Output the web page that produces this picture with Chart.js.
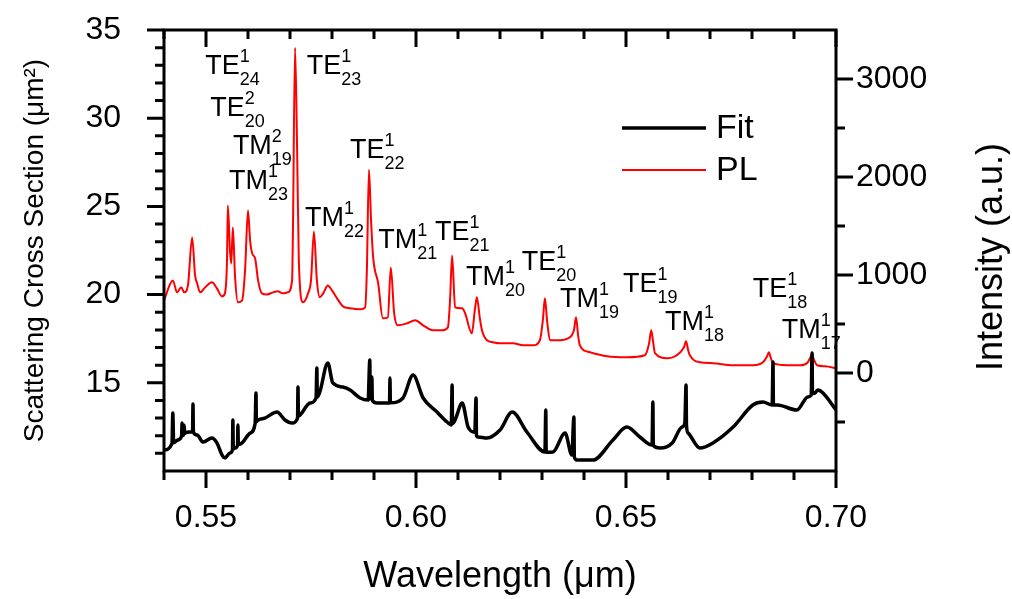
<!DOCTYPE html>
<html>
<head>
<meta charset="utf-8">
<script src="https://cdn.jsdelivr.net/npm/chart.js@4.4.1/dist/chart.umd.min.js"></script>
<style>
  html, body { margin: 0; padding: 0; background: #fff; }
</style>
</head>
<body>
<canvas id="myChart" width="1012" height="599"></canvas>
<script>
// PL spectrum (right axis, a.u.)
const plWavelength = [
  0.5400, 0.5421, 0.5431, 0.5441, 0.5448, 0.5457, 0.5467, 0.5474, 0.5479, 0.5486,
  0.5498, 0.5514, 0.5526, 0.5538, 0.5545, 0.5550, 0.5552, 0.5557, 0.5560, 0.5564,
  0.5569, 0.5576, 0.5586, 0.5593, 0.5600, 0.5605, 0.5610, 0.5617, 0.5624, 0.5633,
  0.5645, 0.5660, 0.5671, 0.5683, 0.5695, 0.5705, 0.5707, 0.5712, 0.5717, 0.5721,
  0.5731, 0.5743, 0.5750, 0.5757, 0.5764, 0.5771, 0.5779, 0.5790, 0.5800, 0.5812,
  0.5826, 0.5843, 0.5867, 0.5879, 0.5883, 0.5888, 0.5893, 0.5898, 0.5910, 0.5921,
  0.5933, 0.5940, 0.5948, 0.5957, 0.5979, 0.5998, 0.6017, 0.6040, 0.6064, 0.6076,
  0.6081, 0.6086, 0.6093, 0.6110, 0.6117, 0.6133, 0.6140, 0.6145, 0.6152, 0.6157,
  0.6169, 0.6183, 0.6200, 0.6231, 0.6255, 0.6279, 0.6295, 0.6302, 0.6307, 0.6312,
  0.6319, 0.6343, 0.6362, 0.6376, 0.6381, 0.6386, 0.6390, 0.6414, 0.6455, 0.6502,
  0.6545, 0.6555, 0.6560, 0.6564, 0.6569, 0.6598, 0.6621, 0.6638, 0.6643, 0.6648,
  0.6652, 0.6676, 0.6707, 0.6755, 0.6802, 0.6826, 0.6836, 0.6840, 0.6845, 0.6850,
  0.6883, 0.6914, 0.6933, 0.6938, 0.6943, 0.6948, 0.6955, 0.6974, 0.7000
];
const plIntensity = [
  741, 945, 823, 874, 823, 894, 1383, 996, 914, 823,
  874, 925, 863, 782, 813, 1149, 1709, 1250, 1118, 1485,
  996, 721, 741, 1047, 1658, 1352, 1220, 1169, 945, 813,
  802, 823, 833, 813, 823, 945, 1454, 3318, 2269, 1149,
  721, 813, 945, 1444, 945, 772, 813, 894, 843, 762,
  680, 660, 650, 670, 1047, 2075, 1556, 1179, 914, 558,
  568, 1077, 609, 487, 507, 538, 487, 436, 436, 466,
  741, 1200, 670, 660, 609, 405, 639, 772, 558, 436,
  334, 314, 303, 303, 283, 283, 334, 538, 762, 538,
  334, 334, 354, 436, 568, 385, 283, 212, 171, 161,
  181, 303, 436, 334, 202, 151, 181, 263, 324, 232,
  181, 110, 100, 79, 79, 110, 171, 212, 151, 100,
  79, 79, 110, 151, 181, 130, 79, 69, 49
];

// Fit (left axis, scattering cross section in um^2)
const fitWavelength = [
  0.5400, 0.5419, 0.5421, 0.5423, 0.5433, 0.5442, 0.5443, 0.5444, 0.5447, 0.5448,
  0.5449, 0.5450, 0.5462, 0.5468, 0.5469, 0.5470, 0.5479, 0.5493, 0.5514, 0.5526,
  0.5538, 0.5545, 0.5557, 0.5563, 0.5564, 0.5565, 0.5569, 0.5575, 0.5576, 0.5577,
  0.5586, 0.5605, 0.5617, 0.5619, 0.5620, 0.5624, 0.5640, 0.5669, 0.5688, 0.5705,
  0.5718, 0.5719, 0.5720, 0.5724, 0.5748, 0.5762, 0.5764, 0.5765, 0.5771, 0.5790,
  0.5802, 0.5826, 0.5843, 0.5867, 0.5886, 0.5890, 0.5891, 0.5895, 0.5896, 0.5907,
  0.5937, 0.5938, 0.5939, 0.5969, 0.5993, 0.6017, 0.6050, 0.6074, 0.6084, 0.6086,
  0.6087, 0.6093, 0.6110, 0.6124, 0.6140, 0.6143, 0.6144, 0.6148, 0.6169, 0.6200,
  0.6229, 0.6264, 0.6307, 0.6309, 0.6310, 0.6326, 0.6355, 0.6371, 0.6376, 0.6377,
  0.6383, 0.6421, 0.6469, 0.6502, 0.6533, 0.6562, 0.6564, 0.6565, 0.6581, 0.6610,
  0.6633, 0.6640, 0.6643, 0.6644, 0.6648, 0.6676, 0.6707, 0.6755, 0.6802, 0.6826,
  0.6848, 0.6850, 0.6851, 0.6860, 0.6907, 0.6933, 0.6941, 0.6943, 0.6944, 0.6950,
  0.6957, 0.6969, 0.7000
];
const fitCrossSection = [
  11.19, 11.57, 13.29, 11.60, 11.76, 11.98, 12.72, 12.00, 12.08, 12.60,
  12.12, 12.15, 12.21, 12.22, 13.80, 12.20, 12.04, 11.64, 11.87, 11.59,
  10.91, 10.74, 11.02, 11.20, 12.89, 11.25, 11.30, 11.45, 12.61, 11.50,
  11.59, 12.15, 12.70, 14.42, 12.80, 12.89, 13.00, 13.34, 12.89, 12.72,
  13.00, 14.76, 13.10, 13.17, 13.85, 14.14, 15.84, 14.20, 14.48, 16.12,
  14.99, 14.76, 14.59, 14.14, 14.02, 16.29, 14.10, 15.33, 14.00, 13.85,
  13.85, 15.27, 13.87, 14.14, 15.44, 14.14, 13.34, 12.78, 12.61, 14.88,
  12.70, 12.89, 13.85, 12.49, 12.20, 14.14, 12.00, 11.93, 11.87, 12.32,
  13.34, 12.21, 11.08, 13.46, 11.07, 11.08, 12.15, 10.91, 13.06, 10.80,
  10.62, 10.62, 11.76, 12.49, 11.93, 11.47, 13.91, 11.45, 11.30, 11.59,
  12.49, 12.70, 14.88, 12.60, 12.15, 11.30, 11.59, 12.49, 13.74, 13.91,
  13.74, 16.18, 13.74, 13.74, 13.46, 14.20, 14.30, 16.69, 14.40, 14.42,
  14.59, 14.42, 13.46
];

// axis tick labels
const xTickValues = [0.55, 0.60, 0.65, 0.70];
const yTickValues = [15, 20, 25, 30, 35];
const y1TickValues = [0, 1000, 2000, 3000];

// mode labels: name, superscript (order), subscript (index), anchor in (wavelength, intensity)
const modeNames = ['TE', 'TE', 'TM', 'TM', 'TE', 'TE', 'TM', 'TM', 'TE', 'TM', 'TE', 'TM', 'TE', 'TM', 'TE', 'TM'];
const modeOrders = ['1', '2', '2', '1', '1', '1', '1', '1', '1', '1', '1', '1', '1', '1', '1', '1'];
const modeIndices = ['24', '20', '19', '23', '23', '22', '22', '21', '21', '20', '20', '19', '19', '18', '18', '17'];
const modeWavelength = [0.5498, 0.5510, 0.5564, 0.5555, 0.5740, 0.5843, 0.5736, 0.5910, 0.6045, 0.6119, 0.6252, 0.6343, 0.6493, 0.6593, 0.6802, 0.6871];
const modeIntensity = [3053, 2625, 2238, 1882, 3053, 2197, 1505, 1271, 1362, 894, 1047, 670, 823, 436, 772, 354];

const FONT = "'Liberation Sans', Arial, sans-serif";

function pairs(xs, ys) {
  return xs.map((v, i) => ({ x: v, y: ys[i] }));
}

// frame, tick marks, mode labels, legend and right title
const decorations = {
  id: 'decorations',
  afterDraw(chart) {
    const ctx = chart.ctx;
    const a = chart.chartArea;
    const sx = chart.scales.x, sy = chart.scales.y, sy1 = chart.scales.y1;
    const major = 17, minor = 9;
    ctx.save();
    ctx.strokeStyle = '#000';
    ctx.lineWidth = 3;
    ctx.beginPath();
    for (let i = 54; i <= 70; i++) {
      const px = sx.getPixelForValue(i / 100);
      const len = i % 5 === 0 ? major : minor;
      ctx.moveTo(px, a.bottom); ctx.lineTo(px, a.bottom + len);
      ctx.moveTo(px, a.top); ctx.lineTo(px, a.top + len);
    }
    for (let i = 11; i <= 35; i++) {
      const py = sy.getPixelForValue(i);
      const len = i % 5 === 0 ? major : minor;
      ctx.moveTo(a.left, py); ctx.lineTo(a.left - len, py);
    }
    for (let i = -1; i <= 6; i++) {
      const py = sy1.getPixelForValue(i * 500);
      const len = i % 2 === 0 ? major : minor;
      ctx.moveTo(a.right, py); ctx.lineTo(a.right + len, py);
    }
    ctx.stroke();
    ctx.strokeRect(a.left, a.top, a.right - a.left, a.bottom - a.top);

    // mode labels
    ctx.fillStyle = '#000';
    ctx.textBaseline = 'alphabetic';
    ctx.textAlign = 'left';
    modeNames.forEach((name, i) => {
      const px = sx.getPixelForValue(modeWavelength[i]);
      const py = sy1.getPixelForValue(modeIntensity[i]);
      ctx.font = '27px ' + FONT;
      ctx.fillText(name, px, py);
      const w = ctx.measureText(name).width;
      ctx.font = '18px ' + FONT;
      ctx.fillText(modeOrders[i], px + w, py - 12);
      ctx.fillText(modeIndices[i], px + w, py + 11);
    });

    // legend
    const ds = chart.data.datasets;
    const legendY = [128, 170];
    ds.forEach((d, i) => {
      ctx.beginPath();
      ctx.strokeStyle = d.borderColor;
      ctx.lineWidth = d.borderWidth;
      ctx.moveTo(622, legendY[i]);
      ctx.lineTo(706, legendY[i]);
      ctx.stroke();
      ctx.fillStyle = '#000';
      ctx.font = '34px ' + FONT;
      ctx.textBaseline = 'middle';
      ctx.fillText(d.label, 716, legendY[i] + 1);
    });

    // right axis title, reading bottom to top
    ctx.translate(992, 257);
    ctx.rotate(-Math.PI / 2);
    ctx.textAlign = 'center';
    ctx.textBaseline = 'middle';
    ctx.font = '36px ' + FONT;
    ctx.fillText('Intensity (a.u.)', 0, 0);
    ctx.restore();
  }
};

const tickFont = { family: FONT, size: 32 };

function noVerticalPad(s) { s.paddingTop = 0; s.paddingBottom = 0; }

const config = {
  type: 'line',
  data: {
    datasets: [
      {
        label: 'Fit',
        data: pairs(fitWavelength, fitCrossSection),
        yAxisID: 'y',
        borderColor: '#000000',
        borderWidth: 3.5,
        pointRadius: 0,
        cubicInterpolationMode: 'monotone',
        fill: false
      },
      {
        label: 'PL',
        data: pairs(plWavelength, plIntensity),
        yAxisID: 'y1',
        borderColor: '#ff0000',
        borderWidth: 2,
        pointRadius: 0,
        cubicInterpolationMode: 'monotone',
        fill: false
      }
    ]
  },
  options: {
    responsive: false,
    animation: false,
    layout: { padding: { top: 30, left: 0, right: 0, bottom: 0 } },
    plugins: { legend: { display: false }, tooltip: { enabled: false } },
    scales: {
      x: {
        type: 'linear',
        min: 0.54,
        max: 0.70,
        afterBuildTicks: s => { s.ticks = xTickValues.map(v => ({ value: v })); },
        afterFit: s => { s.height = 128; s.paddingLeft = 0; s.paddingRight = 0; },
        grid: { display: false, drawTicks: false },
        border: { display: false },
        ticks: { font: tickFont, color: '#000', padding: 28, maxRotation: 0, autoSkip: false,
                 callback: v => v.toFixed(2) },
        title: { display: true, text: 'Wavelength (μm)', color: '#000',
                 font: { family: FONT, size: 36 }, padding: { top: 0, bottom: 0 } }
      },
      y: {
        position: 'left',
        min: 10,
        max: 35,
        afterBuildTicks: s => { s.ticks = yTickValues.map(v => ({ value: v })); },
        afterFit: s => { s.width = 164; noVerticalPad(s); },
        grid: { display: false, drawTicks: false },
        border: { display: false },
        ticks: { font: tickFont, color: '#000', padding: 43, callback: v => String(v) },
        title: { display: true, text: 'Scattering Cross Section (μm²)', color: '#000',
                 font: { family: FONT, size: 28 }, padding: { top: 18, bottom: 0 } }
      },
      y1: {
        position: 'right',
        min: -1000,
        max: 3500,
        afterBuildTicks: s => { s.ticks = y1TickValues.map(v => ({ value: v })); },
        afterFit: s => { s.width = 176; noVerticalPad(s); },
        grid: { display: false, drawTicks: false },
        border: { display: false },
        ticks: { font: tickFont, color: '#000', padding: 20, callback: v => String(v) }
      }
    }
  },
  plugins: [decorations]
};

var myChart = new Chart(document.getElementById('myChart'), config);
</script>
</body>
</html>
